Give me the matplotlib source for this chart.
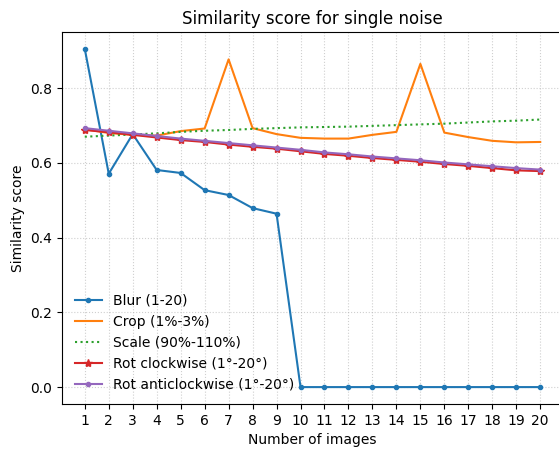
import matplotlib
matplotlib.use("Agg")
import matplotlib.pyplot as plt

x = list(range(1, 21))
blur = [0.905, 0.571, 0.677, 0.581, 0.573, 0.527, 0.514, 0.479, 0.464,
        0, 0, 0, 0, 0, 0, 0, 0, 0, 0, 0]
crop = [0.690, 0.680, 0.675, 0.673, 0.685, 0.692, 0.877, 0.693, 0.677, 0.667,
        0.665, 0.665, 0.675, 0.683, 0.865, 0.681, 0.669, 0.659, 0.655, 0.656]
scale = [0.670, 0.673, 0.676, 0.679, 0.683, 0.686, 0.688, 0.691, 0.693, 0.695,
         0.696, 0.697, 0.699, 0.701, 0.703, 0.705, 0.708, 0.711, 0.713, 0.716]
rot_cw = [0.688, 0.682, 0.675, 0.668, 0.661, 0.656, 0.649, 0.643, 0.638, 0.631,
          0.624, 0.619, 0.613, 0.608, 0.603, 0.597, 0.592, 0.586, 0.580, 0.578]
rot_acw = [0.693, 0.686, 0.679, 0.672, 0.665, 0.659, 0.653, 0.647, 0.641, 0.635,
           0.628, 0.623, 0.617, 0.612, 0.607, 0.601, 0.596, 0.591, 0.586, 0.582]

fig = plt.figure(figsize=(5.59, 4.5), dpi=100)
ax = fig.add_axes([62/559, 46/450, 501/559, 372/450])
ax.plot(x, blur, marker='.', label='Blur (1-20)', color='#1f77b4')
ax.plot(x, crop, label='Crop (1%-3%)', color='#ff7f0e')
ax.plot(x, scale, linestyle=':', label='Scale (90%-110%)', color='#2ca02c')
ax.plot(x, rot_cw, marker='*', label='Rot clockwise (1°-20°)', color='#d62728')
ax.plot(x, rot_acw, marker='.', label='Rot anticlockwise (1°-20°)', color='#9467bd')

ax.set_xticks(x)
ax.grid(True, linestyle=':', alpha=0.6)
ax.set_title('Similarity score for single noise')
ax.set_xlabel('Number of images')
ax.set_ylabel('Similarity score')
ax.legend(loc='lower left', frameon=False)
fig.savefig('out.png', dpi=100)
